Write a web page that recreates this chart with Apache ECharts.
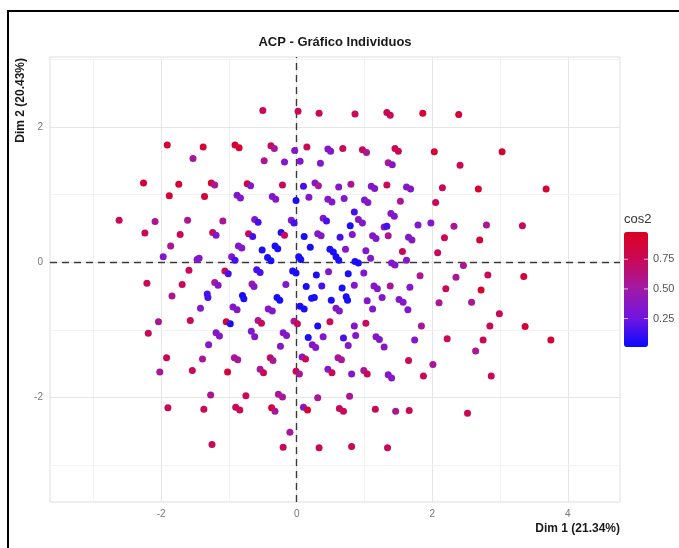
<!DOCTYPE html>
<html><head><meta charset="utf-8">
<script src="https://cdn.jsdelivr.net/npm/echarts@6/dist/echarts.min.js"></script>
<style>html,body{margin:0;padding:0;background:#fff}#c{width:679px;height:548px}</style>
</head><body><div id="c"></div>
<script>
const dim1 = [-1.91,-1.38,-0.91,-0.85,-1.53,-2.26,-1.74,-1.26,-1.21,-0.73,
 -0.68,-1.88,-1.36,-0.88,-0.83,-2.62,-2.09,-1.61,-1.09,-0.62,
 -0.57,-2.24,-1.72,-1.24,-1.19,-0.71,-0.65,-1.86,-0.86,-0.81,
 -1.97,-1.47,-1.44,-0.96,-0.91,
 -0.50,0.02,0.33,0.86,1.33,1.38,-0.38,-0.33,-0.03,0.15,
 0.46,0.50,0.68,0.97,1.03,1.45,1.50,-0.48,-0.18,0.05,
 0.35,1.35,1.41,-0.21,0.10,0.27,0.32,0.62,0.80,1.10,
 1.15,1.33,-0.36,-0.31,-0.01,0.18,0.46,0.52,0.70,1.00,
 1.05,-0.08,-0.04,0.39,0.44,0.85,0.91,0.97,0.79,1.39,
 1.44,1.29,1.33,-0.23,-0.18,0.11,0.31,0.36,0.64,0.82,
 1.12,1.17,1.35,-0.51,-0.32,-0.28,0.20,0.49,0.54,0.72,
 1.02,-0.43,-0.38,0.03,0.06,0.58,0.62,0.86,0.91,1.09,
 1.40,1.45,
 1.86,2.39,2.03,3.03,2.41,1.62,1.68,2.15,2.68,3.68,
 1.53,2.05,1.79,1.98,2.32,2.80,3.33,1.65,1.70,2.18,
 2.70,1.56,2.08,1.62,2.46,
 -1.59,-1.06,-1.01,-2.21,-1.69,-1.21,-1.16,-1.84,-1.32,-1.31,
 -0.80,-0.78,-1.42,-0.94,-0.88,-2.04,-1.57,-1.04,-0.98,-2.19,
 -1.19,-1.14,-1.30,-1.92,-1.39,-0.92,-0.87,-2.02,-1.54,-1.02,
 -1.27,-0.75,-1.90,-1.37,-0.90,-0.84,-1.25,
 -0.59,-0.54,-0.06,-0.01,0.29,0.47,0.76,0.99,-0.66,-0.63,
 -0.16,0.14,0.37,0.67,0.85,1.14,1.19,1.38,-0.29,-0.25,
 0.22,0.26,0.51,0.73,0.75,1.04,1.26,1.51,1.57,-0.42,
 -0.36,0.05,0.11,0.58,0.63,1.12,1.64,-0.57,-0.52,-0.04,
 0.01,0.31,0.49,0.85,1.02,-0.67,-0.62,-0.20,-0.15,0.17,
 0.39,0.69,0.87,1.17,1.22,-0.24,0.23,0.28,0.76,1.29,
 -0.39,-0.35,0.08,0.13,0.61,0.66,1.65,-0.54,-0.49,-0.01,
 0.04,0.46,0.52,0.81,0.99,1.04,1.35,1.40,-0.27,-0.21,
 0.31,0.78,-0.37,-0.32,0.10,0.16,0.63,0.69,1.16,1.46,
 1.66,-0.10,-0.20,0.33,0.81,1.34,
 1.82,2.35,2.82,3.35,1.67,2.20,2.72,2.10,2.58,2.99,
 1.84,2.85,3.37,1.74,2.22,2.75,3.75,2.64,2.01,1.87,
 2.87,2.52];

const dim2 = [1.73,1.70,1.73,1.69,1.53,1.17,1.15,1.17,1.14,1.16,
 1.13,0.98,0.97,0.99,0.95,0.62,0.60,0.62,0.61,0.63,
 0.59,0.43,0.41,0.44,0.40,0.42,0.38,0.24,0.24,0.21,
 0.08,0.04,0.06,0.08,0.03,
 2.24,2.23,2.20,2.19,2.21,2.17,1.72,1.68,1.65,1.70,
 1.67,1.64,1.68,1.66,1.62,1.68,1.64,1.50,1.48,1.49,
 1.46,1.47,1.44,1.14,1.12,1.17,1.13,1.11,1.15,1.12,
 1.09,1.14,0.97,0.93,0.91,0.96,0.93,0.89,0.94,0.92,
 0.88,0.62,0.58,0.65,0.61,0.74,0.63,0.58,0.54,0.72,
 0.68,0.52,0.53,0.44,0.40,0.38,0.42,0.39,0.37,0.41,
 0.39,0.35,0.39,0.18,0.24,0.20,0.22,0.19,0.15,0.19,
 0.17,0.07,0.02,0.08,0.04,0.08,0.03,0.01,-0.01,0.06,
 -0.01,-0.04,
 2.20,2.18,1.63,1.63,1.43,1.11,1.08,1.10,1.08,1.08,
 0.90,0.88,0.55,0.58,0.53,0.55,0.54,0.37,0.33,0.36,
 0.33,0.16,0.14,0.03,-0.05,
 -0.12,-0.13,-0.17,-0.31,-0.33,-0.30,-0.34,-0.50,-0.47,-0.52,
 -0.49,-0.54,-0.68,-0.66,-0.70,-0.88,-0.86,-0.88,-0.91,-1.05,
 -1.04,-1.09,-1.22,-1.41,-1.43,-1.41,-1.44,-1.62,-1.60,-1.62,
 -1.96,-1.97,-2.15,-2.17,-2.14,-2.18,-2.69,
 -0.11,-0.15,-0.13,-0.16,-0.19,-0.14,-0.17,-0.16,-0.32,-0.36,
 -0.33,-0.36,-0.35,-0.38,-0.34,-0.35,-0.39,-0.35,-0.52,-0.56,
 -0.53,-0.52,-0.56,-0.51,-0.56,-0.57,-0.52,-0.55,-0.59,-0.69,
 -0.72,-0.65,-0.69,-0.68,-0.72,-0.69,-0.70,-0.86,-0.90,-0.87,
 -0.91,-0.94,-0.88,-0.94,-0.90,-1.02,-1.10,-1.04,-1.08,-1.11,
 -1.10,-1.12,-1.08,-1.10,-1.14,-1.24,-1.22,-1.26,-1.23,-1.25,
 -1.41,-1.45,-1.40,-1.43,-1.41,-1.44,-1.45,-1.58,-1.63,-1.61,
 -1.65,-1.58,-1.63,-1.65,-1.60,-1.65,-1.66,-1.71,-1.95,-1.99,
 -2.00,-1.98,-2.15,-2.20,-2.14,-2.18,-2.16,-2.20,-2.17,-2.20,
 -2.19,-2.51,-2.73,-2.74,-2.72,-2.74,
 -0.20,-0.22,-0.19,-0.21,-0.37,-0.39,-0.41,-0.60,-0.59,-0.76,
 -0.94,-0.94,-0.95,-1.15,-1.13,-1.15,-1.15,-1.31,-1.51,-1.68,
 -1.68,-2.23];

const cos2 = [.9,.9,.9,.9,.55,.9,.9,.9,.55,.9,
 .35,.9,.9,.35,.35,.75,.55,.55,.55,.35,
 .15,.75,.75,.75,.35,.75,.15,.55,.35,.35,
 .35,.35,.35,.35,.15,
 .75,.75,.75,.75,.75,.75,.75,.55,.35,.75,
 .35,.35,.75,.75,.55,.75,.75,.55,.35,.35,
 .35,.55,.35,.75,.15,.35,.55,.35,.55,.35,
 .35,.75,.35,.35,.05,.35,.35,.35,.35,.35,
 .35,.35,.15,.35,.15,.15,.35,.35,.05,.35,
 .35,.35,.15,.05,.75,.05,.35,.35,.15,.35,
 .35,.35,.55,.05,.05,.05,.05,.05,.05,.35,
 .35,.05,.05,.05,.05,.05,.05,.05,.05,.35,
 .35,.35,
 .9,.9,.9,.9,.75,.35,.35,.75,.9,.9,
 .55,.75,.35,.35,.55,.55,.75,.35,.35,.75,
 .9,.75,.75,.35,.55,
 .75,.75,.15,.75,.75,.55,.35,.55,.15,.15,
 .05,.05,.35,.35,.35,.55,.75,.9,.05,.75,
 .35,.35,.35,.75,.55,.55,.55,.55,.75,.9,
 .55,.75,.75,.75,.75,.75,.75,
 .15,.15,.05,.05,.05,.35,.05,.35,.55,.35,
 .35,.05,.15,.05,.35,.35,.35,.55,.05,.05,
 .05,.05,.05,.05,.05,.35,.35,.35,.35,.35,
 .35,.05,.05,.35,.35,.35,.35,.55,.75,.55,
 .75,.05,.75,.35,.75,.35,.35,.35,.35,.05,
 .35,.15,.35,.35,.35,.35,.35,.35,.35,.35,
 .75,.55,.35,.75,.55,.55,.75,.55,.75,.75,
 .55,.35,.75,.35,.55,.75,.35,.35,.55,.55,
 .55,.55,.9,.55,.35,.9,.75,.75,.75,.55,
 .75,.55,.75,.75,.75,.75,
 .55,.55,.75,.9,.35,.75,.9,.55,.55,.75,
 .55,.75,.9,.35,.75,.75,.9,.55,.55,.75,
 .75,.75];

const xTicks = [-2, 0, 2, 4];
const yTicks = [-2, 0, 2];
const xGridVals = [-3, -2, -1, 0, 1, 2, 3, 4];
const yGridVals = [-3, -2, -1, 0, 1, 2, 3];
const legendTicks = [0.25, 0.5, 0.75];
const cosMin = 0.01, cosMax = 0.98;
const titleText = 'ACP - Gráfico Individuos';
const xName = 'Dim 1 (21.34%)';
const yName = 'Dim 2 (20.43%)';
const legendTitle = 'cos2';

const FONT = "'Liberation Sans', Arial, sans-serif";
const chart = echarts.init(document.getElementById('c'), null, {renderer: 'canvas'});

const barTop = 232, barH = 115, barLeft = 624, barW = 24;
const legY = v => barTop + barH * (cosMax - v) / (cosMax - cosMin);

const graphics = [
  {type: 'rect', shape: {x: 8, y: 11, width: 800, height: 700}, style: {fill: 'none', stroke: '#000', lineWidth: 2}, silent: true},
  {type: 'text', x: 335, y: 42, style: {text: titleText, font: 'bold 13px ' + FONT, fill: '#1a1a1a', align: 'center', verticalAlign: 'middle', textAlign: 'center', textVerticalAlign: 'middle'}},
  {type: 'text', x: 620, y: 529, style: {text: xName, font: 'bold 12px ' + FONT, fill: '#1a1a1a', align: 'right', verticalAlign: 'middle', textAlign: 'right', textVerticalAlign: 'middle'}},
  {type: 'text', x: 21, y: 58, rotation: Math.PI / 2, style: {text: yName, font: 'bold 12px ' + FONT, fill: '#1a1a1a', align: 'right', verticalAlign: 'middle', textAlign: 'right', textVerticalAlign: 'middle'}},
  {type: 'text', x: 624, y: 219, style: {text: legendTitle, font: '13px ' + FONT, fill: '#333', align: 'left', verticalAlign: 'middle', textAlign: 'left', textVerticalAlign: 'middle'}, z: 100}
];
legendTicks.forEach(v => {
  const y = legY(v);
  graphics.push({type: 'text', x: 653, y: y, style: {text: v.toFixed(2), font: '11px ' + FONT, fill: '#555', align: 'left', verticalAlign: 'middle', textAlign: 'left', textVerticalAlign: 'middle'}, z: 100});
  graphics.push({type: 'line', shape: {x1: barLeft, y1: y, x2: barLeft + 4, y2: y}, style: {stroke: 'rgba(255,255,255,0.7)', lineWidth: 1}, z: 100});
  graphics.push({type: 'line', shape: {x1: barLeft + barW - 4, y1: y, x2: barLeft + barW, y2: y}, style: {stroke: 'rgba(255,255,255,0.7)', lineWidth: 1}, z: 100});
});

const pts = dim1.map((x, i) => [x, dim2[i], cos2[i]]);

const option = {
  animation: false,
  backgroundColor: '#fff',
  textStyle: {fontFamily: FONT},
  grid: {left: 50, right: 59, top: 57, bottom: 46, show: true, borderColor: '#dedede', borderWidth: 1, backgroundColor: '#fff'},
  xAxis: {
    type: 'value', min: -3.64, max: 4.77,
    axisLine: {show: false},
    axisTick: {show: true, customValues: xTicks, length: 4, lineStyle: {color: '#cfcfcf'}},
    axisLabel: {customValues: xTicks, color: '#777', fontSize: 10, margin: 7, fontFamily: FONT},
    splitLine: {show: false}
  },
  yAxis: {
    type: 'value', min: -3.54, max: 3.03,
    axisLine: {show: false},
    axisTick: {show: true, customValues: yTicks, length: 4, lineStyle: {color: '#cfcfcf'}},
    axisLabel: {customValues: yTicks, color: '#777', fontSize: 10, margin: 7, fontFamily: FONT},
    splitLine: {show: false}
  },
  visualMap: {
    type: 'continuous', min: cosMin, max: cosMax, dimension: 2, seriesIndex: 2,
    left: barLeft, top: barTop, itemWidth: barW, itemHeight: barH, padding: 0,
    calculable: false, realtime: false, hoverLink: false,
    inRange: {color: ['#0a0aff', '#7015e0', '#a01aa8', '#c80a5a', '#dc0020']}
  },
  graphic: graphics,
  series: [
    {
      type: 'scatter', data: [], silent: true, z: 1,
      markLine: {
        z: 1, silent: true, symbol: ['none', 'none'], label: {show: false}, animation: false,
        data: xGridVals.map(v => ({xAxis: v, lineStyle: {color: v % 2 === 0 ? '#e6e6e6' : '#f2f2f2', width: 1, type: 'solid'}}))
          .concat(yGridVals.map(v => ({yAxis: v, lineStyle: {color: v % 2 === 0 ? '#e6e6e6' : '#f2f2f2', width: 1, type: 'solid'}})))
      }
    },
    {
      type: 'scatter', data: [], silent: true, z: 2,
      markLine: {
        z: 2, silent: true, symbol: ['none', 'none'], label: {show: false}, animation: false,
        lineStyle: {color: '#3a3a3a', width: 1.4, type: [7, 5]},
        data: [{xAxis: 0}, {yAxis: 0}]
      }
    },
    {
      type: 'scatter', data: pts, symbolSize: 7, z: 10,
      itemStyle: {opacity: 1}
    }
  ]
};
chart.setOption(option);
</script>
</body></html>
